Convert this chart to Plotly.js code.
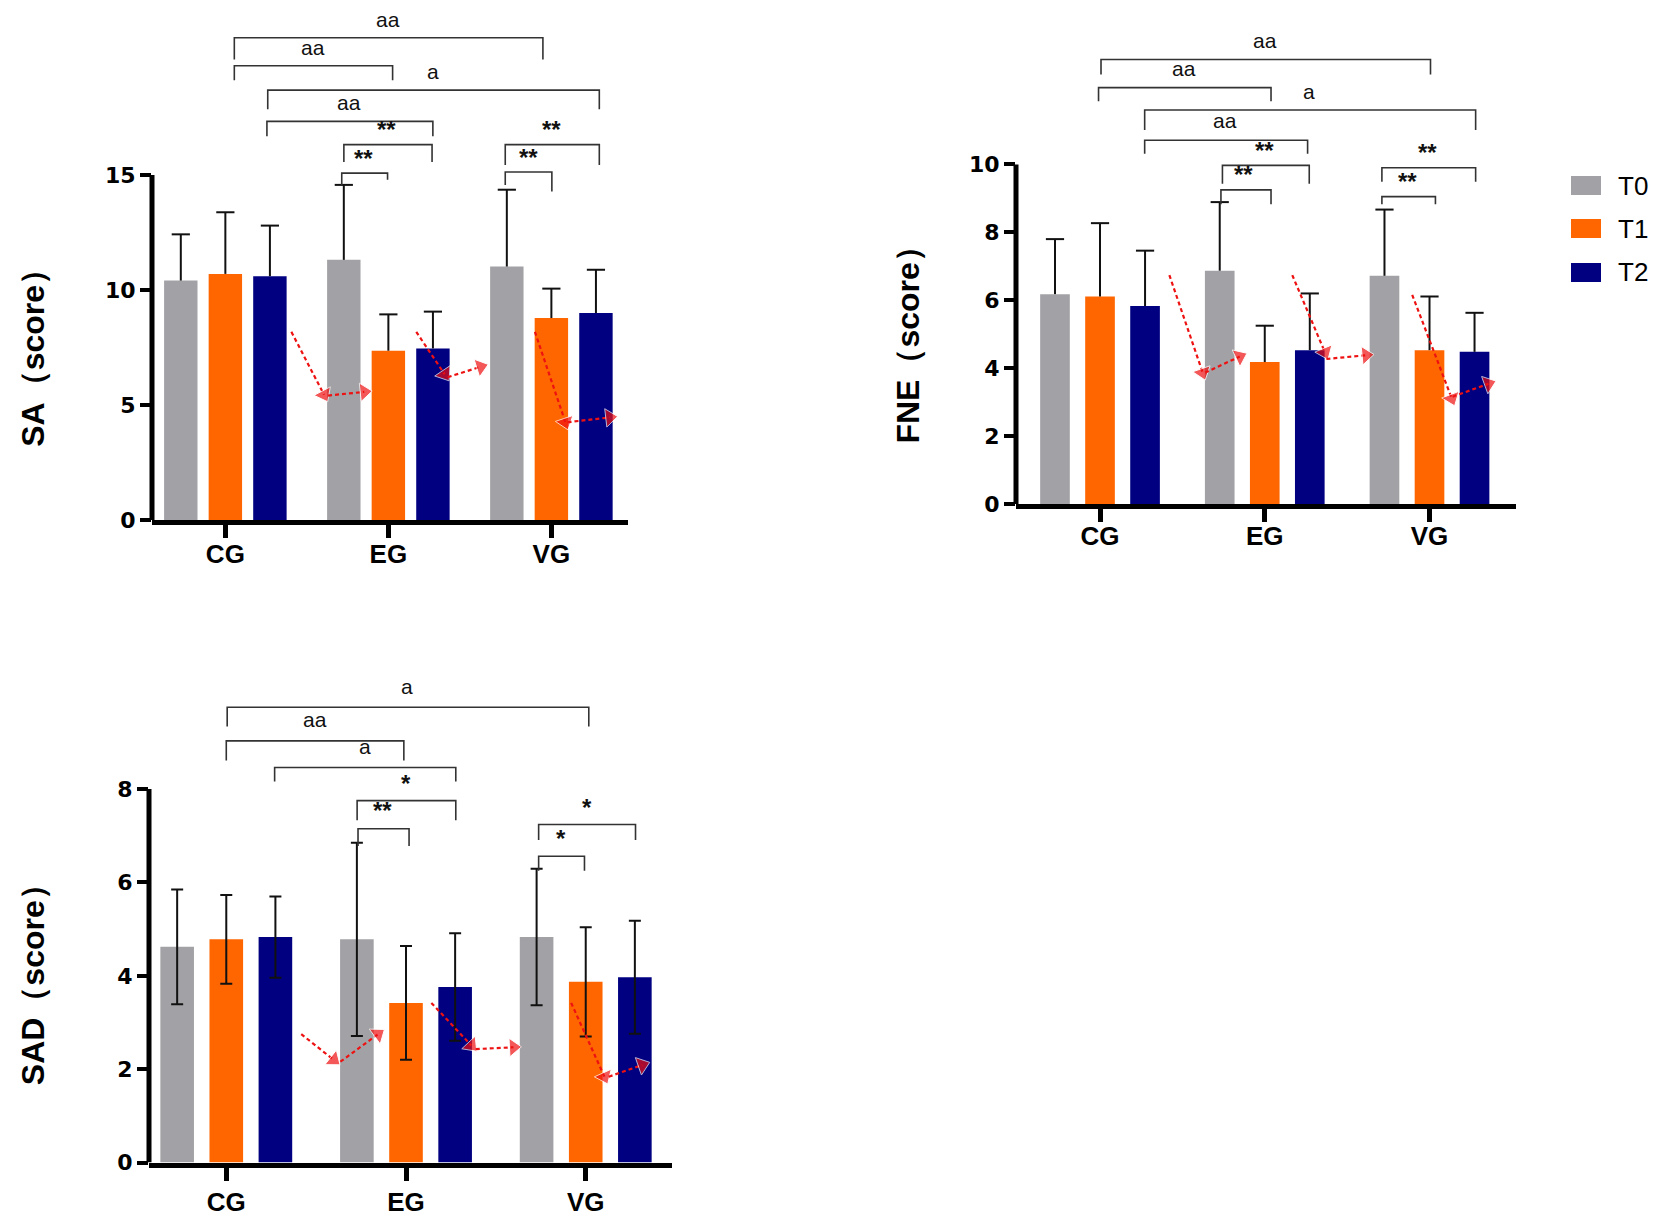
<!DOCTYPE html>
<html><head><meta charset="utf-8">
<script src="https://cdn.plot.ly/plotly-3.0.1.min.js"></script>
<style>body{margin:0;background:#fff}#chart{width:1654px;height:1219px}</style>
</head><body><div id="chart"></div>
<script>
// ---------- data ----------
const groups = ['CG', 'EG', 'VG'];
const timepoints = ['T0', 'T1', 'T2'];

const saT0 = [10.41, 11.31, 11.02];
const saT1 = [10.70, 7.36, 8.78];
const saT2 = [10.60, 7.46, 9.00];
const saSdT0 = [2.01, 3.26, 3.34];
const saSdT1 = [2.68, 1.58, 1.28];
const saSdT2 = [2.20, 1.60, 1.88];

const fneT0 = [6.18, 6.87, 6.72];
const fneT1 = [6.11, 4.18, 4.53];
const fneT2 = [5.83, 4.53, 4.48];
const fneSdT0 = [1.62, 2.02, 1.95];
const fneSdT1 = [2.16, 1.07, 1.58];
const fneSdT2 = [1.63, 1.67, 1.15];

const sadT0 = [4.62, 4.78, 4.83];
const sadT1 = [4.78, 3.42, 3.87];
const sadT2 = [4.83, 3.76, 3.97];
const sadSdT0 = [1.23, 2.07, 1.46];
const sadSdT1 = [0.95, 1.22, 1.17];
const sadSdT2 = [0.87, 1.15, 1.21];

const saTicks = [0, 5, 10, 15];
const fneTicks = [0, 2, 4, 6, 8, 10];
const sadTicks = [0, 2, 4, 6, 8];

// significance brackets: [x0, x1, yLine, yLeftEnd, yRightEnd, label, labelX, labelY]
const saBrackets = [
  [0.055, 1.948, 20.97, 20.02, 20.02, 'aa', 0.995, 21.77],
  [0.055, 1.026, 19.75, 19.12, 19.12, 'aa', 0.535, 20.54],
  [0.26, 2.294, 18.69, 17.86, 17.86, 'a', 1.273, 19.52],
  [0.255, 1.273, 17.33, 16.69, 16.69, 'aa', 0.756, 18.16],
  [0.727, 1.268, 16.32, 15.56, 15.56, '**', 0.99, 16.96],
  [0.714, 0.995, 15.08, 14.57, 14.79, '**', 0.847, 15.72],
  [1.717, 2.294, 16.32, 15.43, 15.43, '**', 2.0, 16.96],
  [1.717, 2.003, 15.13, 14.57, 14.28, '**', 1.857, 15.77]
];
const fneBrackets = [
  [0.006, 2.006, 13.09, 12.65, 12.65, 'aa', 1.0, 13.65],
  [-0.009, 1.038, 12.26, 11.86, 11.86, 'aa', 0.51, 12.81],
  [0.271, 2.28, 11.60, 11.01, 11.01, 'a', 1.27, 12.16],
  [0.271, 1.26, 10.71, 10.31, 10.31, 'aa', 0.758, 11.29],
  [0.743, 1.27, 9.97, 9.43, 9.43, '**', 1.0, 10.41],
  [0.734, 1.038, 9.25, 8.83, 8.83, '**', 0.872, 9.71],
  [1.711, 2.28, 9.90, 9.49, 9.49, '**', 1.985, 10.36],
  [1.711, 2.036, 9.05, 8.83, 8.83, '**', 1.865, 9.49]
];
const sadBrackets = [
  [0.005, 2.017, 9.75, 9.34, 9.34, 'a', 1.005, 10.20],
  [0.0, 0.988, 9.03, 8.61, 8.61, 'aa', 0.494, 9.48],
  [0.269, 1.277, 8.46, 8.16, 8.16, 'a', 0.77, 8.91],
  [0.728, 1.277, 7.75, 7.33, 7.33, '*', 1.0, 8.12],
  [0.733, 1.017, 7.15, 6.78, 6.78, '**', 0.869, 7.53],
  [1.738, 2.277, 7.24, 6.91, 6.91, '*', 2.005, 7.61],
  [1.738, 1.993, 6.56, 6.25, 6.25, '*', 1.862, 6.94]
];

// red dashed arrows: [x0, y0, x1, y1]
const saArrows = [
  [0.405, 8.18, 0.605, 5.45], [0.63, 5.41, 0.852, 5.57],
  [1.171, 8.18, 1.345, 6.34], [1.364, 6.21, 1.566, 6.66],
  [1.899, 8.18, 2.086, 4.25], [2.099, 4.25, 2.358, 4.46]
];
const fneArrows = [
  [0.421, 6.74, 0.623, 3.87], [0.638, 3.87, 0.848, 4.34],
  [1.167, 6.74, 1.365, 4.47], [1.374, 4.27, 1.615, 4.38],
  [1.895, 6.16, 2.135, 3.11], [2.14, 3.16, 2.358, 3.54]
];
const sadArrows = [
  [0.417, 2.75, 0.598, 2.20], [0.635, 2.16, 0.844, 2.75],
  [1.141, 3.42, 1.363, 2.51], [1.388, 2.43, 1.598, 2.47],
  [1.919, 3.42, 2.104, 1.84], [2.128, 1.84, 2.314, 2.09]
];

// ---------- style / layout config ----------
const W = 1654, H = 1219;
const colors = ['#A2A2A6', '#FF6600', '#000080'];
const red = '#EE1111';
const FONT = 'Liberation Sans, Arial, sans-serif';
const WIDEFONT = 'DejaVu Sans, Liberation Sans, sans-serif';
const BARGAP = 0.18;
const slot = (1 - BARGAP) / timepoints.length;   // grouped-bar slot width (axis units)

const panels = [
  { n: '', title: 'SA（score）', means: [saT0, saT1, saT2], sds: [saSdT0, saSdT1, saSdT2], sym: false,
    ticks: saTicks, brackets: saBrackets, arrows: saArrows, barW: 0.205, standoff: -6,
    xpx: [152, 628], xr: [-0.45, 2.47], y0px: 520, pxPerUnit: 23.0, titleX: 33, titleY: 7.4 },
  { n: '2', title: 'FNE（score）', means: [fneT0, fneT1, fneT2], sds: [fneSdT0, fneSdT1, fneSdT2], sym: false,
    ticks: fneTicks, brackets: fneBrackets, arrows: fneArrows, barW: 0.18, standoff: -8,
    xpx: [1016, 1516], xr: [-0.51, 2.525], y0px: 504, pxPerUnit: 33.96, titleX: 908, titleY: 4.9 },
  { n: '3', title: 'SAD（score）', means: [sadT0, sadT1, sadT2], sds: [sadSdT0, sadSdT1, sadSdT2], sym: true,
    ticks: sadTicks, brackets: sadBrackets, arrows: sadArrows, barW: 0.187, standoff: -1,
    xpx: [149, 672], xr: [-0.43, 2.48], y0px: 1162.6, pxPerUnit: 46.7, titleX: 33, titleY: 3.97, topPx: 600 }
];

const data = [];
const layout = {
  width: W, height: H, margin: { l: 0, r: 0, t: 0, b: 0 },
  paper_bgcolor: '#fff', plot_bgcolor: 'rgba(0,0,0,0)',
  barmode: 'group', bargap: BARGAP, bargroupgap: 0.3,
  showlegend: false, shapes: [], annotations: [],
  font: { family: FONT, color: '#000' }
};

const xIdx = groups.map((g, i) => i);

panels.forEach(p => {
  const xa = 'x' + p.n, ya = 'y' + p.n;
  const topPx = p.topPx || 0;
  const yTop = (p.y0px - topPx) / p.pxPerUnit;
  const ymax = p.ticks[p.ticks.length - 1];

  layout['xaxis' + p.n] = {
    domain: [p.xpx[0] / W, p.xpx[1] / W], range: p.xr, anchor: ya,
    tickvals: xIdx, ticktext: groups, ticks: 'outside', ticklen: 13, tickwidth: 5, tickcolor: '#000',
    ticklabelstandoff: p.standoff,
    showline: true, linewidth: 5, linecolor: '#000', showgrid: false, zeroline: false,
    tickfont: { family: FONT, size: 26, weight: 'bold', color: '#000' }, fixedrange: true
  };
  layout['yaxis' + p.n] = {
    domain: [1 - p.y0px / H, 1 - topPx / H], range: [0, yTop], anchor: xa,
    tickvals: p.ticks, ticks: 'outside', ticklen: 11, tickwidth: 4, tickcolor: '#000',
    showline: false, showgrid: false, zeroline: false,
    tickfont: { family: WIDEFONT, size: 22, weight: 'bold', color: '#000' }, fixedrange: true
  };
  // vertical axis line only up to top tick
  layout.shapes.push({ type: 'line', xref: xa + ' domain', yref: ya, x0: 0, x1: 0, y0: 0, y1: ymax,
    line: { color: '#000', width: 5 }, layer: 'above' });

  // bars
  timepoints.forEach((t, k) => {
    const sd = p.sds[k];
    data.push({
      type: 'bar', name: t, x: xIdx, y: p.means[k], xaxis: xa, yaxis: ya, width: p.barW,
      marker: { color: colors[k], line: { width: 0 } },
      error_y: p.sym
        ? { type: 'data', array: sd, visible: true, color: '#111', thickness: 2, width: 6 }
        : { visible: false },
      hoverinfo: 'skip', showlegend: false
    });
  });
  // upward-only whiskers (no cap at bar top), placed at each bar's grouped slot centre
  if (!p.sym) {
    timepoints.forEach((t, k) => {
      const sd = p.sds[k];
      const off = (k - (timepoints.length - 1) / 2) * slot;
      data.push({
        type: 'scatter', mode: 'markers', x: xIdx.map(i => i + off), y: p.means[k].map((m, i) => m + sd[i]),
        xaxis: xa, yaxis: ya,
        marker: { symbol: 'line-ew', size: 13, color: '#111', line: { color: '#111', width: 2 } },
        error_y: { type: 'data', symmetric: false, array: sd.map(() => 0), arrayminus: sd,
          visible: true, color: '#111', thickness: 2, width: 0 },
        cliponaxis: false, hoverinfo: 'skip', showlegend: false
      });
    });
  }

  // brackets
  p.brackets.forEach(b => {
    const [x0, x1, yl, yL, yR, lab, lx, ly] = b;
    layout.shapes.push({ type: 'path', xref: xa, yref: ya,
      path: `M${x0},${yL} L${x0},${yl} L${x1},${yl} L${x1},${yR}`,
      line: { color: '#333', width: 1.6 } });
    const star = lab.indexOf('*') >= 0;
    layout.annotations.push({ xref: xa, yref: ya, x: lx, y: ly, text: lab, showarrow: false,
      xanchor: 'center', yanchor: 'middle',
      font: { family: FONT, size: star ? 24 : 21, color: '#111', weight: star ? 'bold' : 'normal' } });
  });

  // arrows
  p.arrows.forEach(a => {
    data.push({ type: 'scatter', mode: 'lines+markers', x: [a[0], a[2]], y: [a[1], a[3]], xaxis: xa, yaxis: ya,
      line: { color: red, width: 2.2, dash: '4px,3px' },
      marker: { symbol: 'triangle-up', size: [0, 16], color: red, angleref: 'previous' },
      cliponaxis: false, hoverinfo: 'skip', showlegend: false });
  });

  // axis title
  layout.annotations.push({ xref: 'paper', yref: ya, x: p.titleX / W, y: p.titleY, text: p.title,
    textangle: -90, showarrow: false, xanchor: 'center', yanchor: 'middle',
    font: { family: FONT, size: 32, weight: 'bold', color: '#000' } });
});

// manual legend
const legendY = [185.5, 228.5, 272.5];
timepoints.forEach((t, k) => {
  layout.shapes.push({ type: 'rect', xref: 'paper', yref: 'paper',
    x0: 1571 / W, x1: 1601 / W, y0: 1 - (legendY[k] - 9.5) / H, y1: 1 - (legendY[k] + 9.5) / H,
    fillcolor: colors[k], line: { width: 0 } });
  layout.annotations.push({ xref: 'paper', yref: 'paper', x: 1616 / W, y: 1 - legendY[k] / H,
    text: t, showarrow: false, xanchor: 'left', yanchor: 'middle',
    font: { family: FONT, size: 26, color: '#000' } });
});

Plotly.newPlot('chart', data, layout, { displayModeBar: false, staticPlot: true });
</script>
</body></html>
